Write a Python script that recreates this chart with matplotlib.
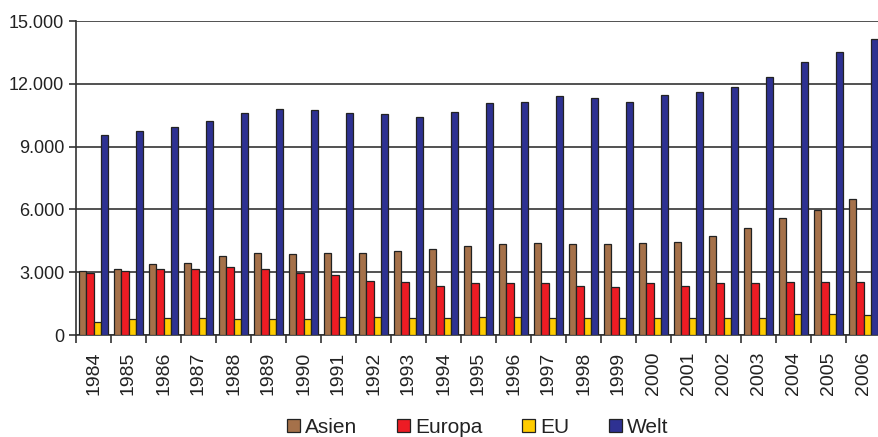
import numpy as np
import matplotlib
matplotlib.use('Agg')
import matplotlib.pyplot as plt
from matplotlib.ticker import FuncFormatter

years = [str(y) for y in range(1984, 2007)]
asien = [3060, 3140, 3390, 3460, 3790, 3920, 3850, 3920, 3920, 4000, 4120, 4250,
         4330, 4380, 4330, 4330, 4380, 4460, 4730, 5130, 5580, 5970, 6500]
europa = [2980, 3060, 3140, 3140, 3270, 3140, 2980, 2850, 2600, 2530, 2340, 2470,
          2470, 2470, 2340, 2280, 2470, 2340, 2470, 2470, 2530, 2530, 2530]
eu = [620, 750, 810, 810, 750, 750, 750, 880, 880, 810, 810, 880,
      880, 810, 810, 810, 810, 810, 810, 810, 1020, 1020, 950]
welt = [9560, 9750, 9940, 10210, 10590, 10800, 10740, 10590, 10540, 10420, 10670, 11070,
        11150, 11400, 11340, 11150, 11470, 11610, 11870, 12340, 13060, 13520, 14130]

series = [('Asien', asien, '#A5714A'), ('Europa', europa, '#ED1C24'),
          ('EU', eu, '#FFCC00'), ('Welt', welt, '#2E3192')]

plt.rcParams['font.family'] = ['Liberation Sans', 'DejaVu Sans']

fig = plt.figure(figsize=(8.79, 4.37), dpi=100)
ax = fig.add_axes([76 / 879, 1 - 335 / 437, 805 / 879, 314 / 437])

x = np.arange(len(years))
w = 0.21
for i, (name, vals, col) in enumerate(series):
    ax.bar(x + (i - 1.5) * w, vals, w, color=col, edgecolor='#222222',
           linewidth=0.9, label=name, zorder=3)

ax.set_ylim(0, 15000)
ax.set_xlim(-0.5, len(years) - 0.5)
ax.set_yticks(np.arange(0, 15001, 3000))
ax.yaxis.set_major_formatter(FuncFormatter(lambda v, p: f'{int(v):,}'.replace(',', '.')))
ax.grid(axis='y', color='#333333', linewidth=1.2, zorder=0)

# year labels at group centers, tick marks between groups
ax.set_xticks(x)
ax.set_xticklabels(years, rotation=90, fontsize=14)
ax.tick_params(axis='x', length=0, pad=12, colors='#222222')
ax.set_xticks(np.arange(-0.5, len(years)), minor=True)
ax.tick_params(axis='x', which='minor', length=6, width=1.2, color='#333333')
ax.tick_params(axis='y', labelsize=13, length=5, width=1.2, color='#333333', colors='#222222')

for s in ['top', 'right']:
    ax.spines[s].set_visible(False)
for s in ['left', 'bottom']:
    ax.spines[s].set_color('#333333')
    ax.spines[s].set_linewidth(1.2)

leg = fig.legend(loc='center', bbox_to_anchor=(478 / 879, 0.022), ncol=4, frameon=False,
                 fontsize=15, handlelength=0.62, handleheight=0.62, handletextpad=0.25,
                 columnspacing=1.9, borderpad=0)
for t in leg.get_texts():
    t.set_color('#222222')

fig.savefig('out.png', dpi=100)
